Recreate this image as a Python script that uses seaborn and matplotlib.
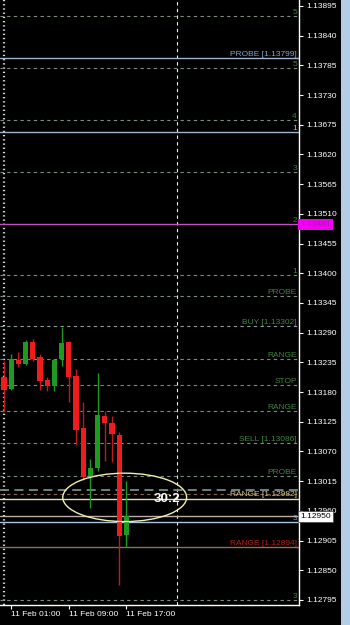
import matplotlib
matplotlib.use("Agg")
import matplotlib.pyplot as plt
import matplotlib.transforms as mtrans
from matplotlib.patches import Ellipse, Rectangle
import seaborn as sns
import pandas as pd

# ---------------- data ----------------
hours = list(range(18))  # 11 Feb 00:00 .. 17:00 (hourly candles)
opens = [1.13208, 1.13186, 1.13240, 1.13232, 1.13273, 1.13245, 1.13202, 1.13191, 1.13241,
         1.13273, 1.13210, 1.13114, 1.13025, 1.13039, 1.13136, 1.13123, 1.13101, 1.12915]
highs = [1.13238, 1.13251, 1.13254, 1.13276, 1.13278, 1.13251, 1.13208, 1.13241, 1.13301,
         1.13275, 1.13223, 1.13162, 1.13056, 1.13215, 1.13145, 1.13136, 1.13106, 1.13015]
lows = [1.13143, 1.13183, 1.13226, 1.13231, 1.13238, 1.13184, 1.13182, 1.13182, 1.13228,
        1.13162, 1.13082, 1.13017, 1.12965, 1.13034, 1.13052, 1.13051, 1.12823, 1.12893]
closes = [1.13184, 1.13241, 1.13232, 1.13273, 1.13241, 1.13201, 1.13191, 1.13239, 1.13271,
          1.13208, 1.13110, 1.13023, 1.13039, 1.13138, 1.13123, 1.13102, 1.12914, 1.12950]

x_tick_pos = [1, 9, 17]
x_tick_labels = ["11 Feb 01:00", "11 Feb 09:00", "11 Feb 17:00"]
y_tick_labels = ["1.12795", "1.12850", "1.12905", "1.12960", "1.13015", "1.13070", "1.13125",
                 "1.13180", "1.13235", "1.13290", "1.13345", "1.13400", "1.13455", "1.13510",
                 "1.13565", "1.13620", "1.13675", "1.13730", "1.13785", "1.13840", "1.13895"]

dashed_levels = [1.13876, 1.13780, 1.13684, 1.13588, 1.13397, 1.13358, 1.13302, 1.13241,
                 1.13193, 1.13145, 1.13086, 1.13025, 1.12795]
dashed_labels = ["5", "5", "4", "3", "1", "PROBE", "BUY [1.13302]", "RANGE", "STOP", "RANGE",
                 "SELL [1.13086]", "PROBE", "3"]

probe_high = 1.13799
blue_level_1 = 1.13662
magenta_level = 1.13491
dashdot_level = 1.12999
brown_dash_level = 1.12991
range_high = 1.12982
bid_price = 1.12950
blue_level_3 = 1.12939
range_low = 1.12894
separators = [0, 24]
ellipse_center = (16.76, 1.12985)
ellipse_size = (17.2, 0.000896)
ratio_text = "30:2"
ratio_pos = (22.7, 1.12982)

# ---------------- style ----------------
sns.set_theme(style="dark", rc={"axes.facecolor": "black", "figure.facecolor": "black"})
plt.rcParams["font.family"] = ["Liberation Sans", "DejaVu Sans"]

df = pd.DataFrame({"hour": hours, "open": opens, "high": highs, "low": lows, "close": closes})
df["up"] = df["close"] >= df["open"]

fig = plt.figure(figsize=(3.5, 6.25), dpi=100, facecolor="black")
ax = fig.add_axes([0, 20 / 625, 299 / 350, 605 / 625])
ax.set_facecolor("black")
ax.set_xlim(-0.556, 40.97)
ax.set_ylim(1.127857, 1.139061)

trans = mtrans.blended_transform_factory(ax.transAxes, ax.transData)

# period separators
ax.axvline(separators[0], color="#d8d8d8", lw=1.6, ls=(0, (0.6, 1.3)), zorder=1)
ax.axvline(separators[1], color="#f0f0f0", lw=0.8, ls=(0, (3, 3)), zorder=1)

# dashed levels
green_txt = "#3f823f"
for lv, lb in zip(dashed_levels, dashed_labels):
    col = "#8aa098" if lb.startswith("BUY") else "#7c8c7c"
    ax.axhline(lv, color=col, lw=0.8, ls=(0, (3, 3)), zorder=1)
    ax.text(0.993, lv, lb, transform=trans, ha="right", va="bottom", fontsize=6,
            color=green_txt, zorder=5)

# solid levels
ax.axhline(probe_high, color="#9fb4cc", lw=1.0, zorder=1)
ax.text(0.993, probe_high, "PROBE [1.13799]", transform=trans, ha="right", va="bottom",
        fontsize=6, color="#7fa4c8", zorder=5)
ax.axhline(blue_level_1, color="#9fb4cc", lw=1.0, zorder=1)
ax.text(0.993, blue_level_1, "1", transform=trans, ha="right", va="bottom", fontsize=6,
        color="#a8c0dc", zorder=5)
ax.axhline(magenta_level, color="#c050c0", lw=1.0, zorder=1)
ax.text(0.993, magenta_level, "2", transform=trans, ha="right", va="bottom", fontsize=6,
        color=green_txt, zorder=5)

ax.axhline(dashdot_level, color="#7c8c80", lw=1.3, ls=(0, (5, 3)), zorder=1)
ax.axhline(brown_dash_level, color="#8a6a50", lw=0.8, ls=(0, (3, 3)), zorder=1)
ax.axhline(range_high, color="#e8e0a8", lw=1.0, zorder=1)
ax.text(0.993, range_high + 0.00002, "RANGE [1.12982]", transform=trans, ha="right", va="bottom",
        fontsize=6, color="#d8c888", zorder=5)
ax.axhline(bid_price, color="#b8b0a8", lw=1.0, zorder=1)
ax.axhline(blue_level_3, color="#a8c4e0", lw=1.0, zorder=1)
ax.text(0.993, blue_level_3, "3", transform=trans, ha="right", va="bottom", fontsize=6,
        color="#7fa4c8", zorder=5)
ax.axhline(range_low, color="#8a7060", lw=1.0, zorder=1)
ax.text(0.993, range_low, "RANGE [1.12894]", transform=trans, ha="right", va="bottom",
        fontsize=6, color="#b02020", zorder=5)

# candles
up = df[df["up"]]
dn = df[~df["up"]]
ax.vlines(up["hour"], up["low"], up["high"], color="#1e9b1e", lw=1.0, zorder=3)
ax.vlines(dn["hour"], dn["low"], dn["high"], color="#c01a1a", lw=1.0, zorder=3)
ax.bar(up["hour"], up["close"] - up["open"], bottom=up["open"], width=0.72,
       color="#1e9b1e", linewidth=0, zorder=4)
ax.bar(dn["hour"], dn["open"] - dn["close"], bottom=dn["close"], width=0.72,
       color="#ee1c1c", linewidth=0, zorder=4)

# ellipse + ratio
ax.add_patch(Ellipse(ellipse_center, ellipse_size[0], ellipse_size[1], fill=False,
                     edgecolor="#f0eeb0", lw=1.0, zorder=6))
ax.text(ratio_pos[0], ratio_pos[1], ratio_text, ha="center", va="center", fontsize=9.5,
        fontweight="bold", color="white", zorder=7)

# axes / ticks
for s in ["top", "left"]:
    ax.spines[s].set_visible(False)
for s in ["right", "bottom"]:
    ax.spines[s].set_visible(True)
    ax.spines[s].set_color("white")
    ax.spines[s].set_linewidth(1.0)
ax.grid(False)

ax.yaxis.tick_right()
ax.set_yticks([float(t) for t in y_tick_labels])
ax.set_yticklabels(y_tick_labels)
ax.set_xticks(x_tick_pos)
ax.set_xticklabels(x_tick_labels, ha="left")
ax.tick_params(axis="y", right=True, left=False, labelright=True, labelleft=False,
               colors="white", length=3, width=0.8, pad=2, labelsize=6)
ax.tick_params(axis="x", bottom=True, colors="white", length=3, width=0.8, pad=1.5, labelsize=6)

# price boxes on the axis
ax.text(1.004, magenta_level, "1.13491", transform=trans, ha="left", va="center", fontsize=6,
        color="#a020a0", zorder=10, clip_on=False,
        bbox=dict(boxstyle="square,pad=0.25", fc="#f000f0", ec="none"))
ax.text(1.004, bid_price, "1.12950", transform=trans, ha="left", va="center", fontsize=6,
        color="black", zorder=10, clip_on=False,
        bbox=dict(boxstyle="square,pad=0.25", fc="white", ec="#404040", lw=0.5))

# window frame strip on the right
fig.patches.append(Rectangle((341 / 350, 0), 9 / 350, 1, transform=fig.transFigure,
                             facecolor="#b4cce6", edgecolor="none", zorder=0))

fig.savefig("out.png", dpi=100, facecolor="black")
